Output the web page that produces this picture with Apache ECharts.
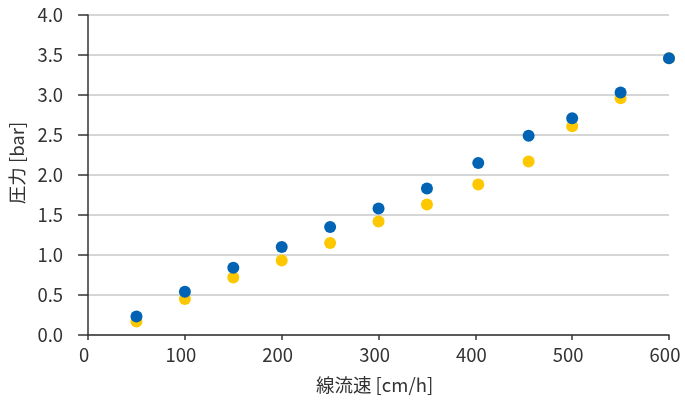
<!DOCTYPE html>
<html>
<head>
<meta charset="utf-8">
<script src="https://cdn.jsdelivr.net/npm/echarts@6/dist/echarts.min.js"></script>
<style>
  html, body { margin: 0; padding: 0; background: #fff; }
  #chart { width: 685px; height: 400px; }
</style>
</head>
<body>
<div id="chart"></div>
<script>
// Linear flow velocity [cm/h]
const velocity = [50, 100, 150, 200, 250, 300, 350, 403, 455, 500, 550, 600];
// Pressure [bar] for the two measurement series
const pressureBlue   = [0.23, 0.54, 0.84, 1.10, 1.35, 1.58, 1.83, 2.15, 2.49, 2.71, 3.03, 3.46];
const pressureYellow = [0.17, 0.45, 0.72, 0.93, 1.15, 1.42, 1.63, 1.88, 2.17, 2.61, 2.96, 3.46];

const FONT = '"Noto Sans CJK JP", "Noto Sans", sans-serif';
const TEXT = '#333333';
const FS = 18.5;

function pairs(xs, ys) {
  return xs.map((x, i) => [x, ys[i]]);
}

const chart = echarts.init(document.getElementById('chart'), null, { renderer: 'canvas' });
chart.setOption({
  animation: false,
  backgroundColor: '#ffffff',
  grid: { left: 87, right: 16, top: 15, bottom: 65 },
  xAxis: {
    type: 'value',
    min: 0, max: 600, interval: 100,
    name: '線流速 [cm/h]',
    nameLocation: 'middle',
    nameGap: 41,
    nameTextStyle: { fontFamily: FONT, fontSize: FS, color: TEXT, padding: [0, 8, 0, 0] },
    axisLine: { lineStyle: { color: '#333', width: 1.5 } },
    axisTick: { show: true, length: 5, lineStyle: { color: '#333', width: 1.5 } },
    axisLabel: { margin: 11, fontFamily: FONT, fontSize: FS, color: TEXT, padding: [0, 8, 0, 0] },
    splitLine: { show: false }
  },
  yAxis: {
    type: 'value',
    min: 0, max: 4, interval: 0.5,
    name: '圧力 [bar]',
    nameLocation: 'middle',
    nameGap: 59,
    nameRotate: 90,
    nameTextStyle: { fontFamily: FONT, fontSize: FS, color: TEXT, padding: [0, 0, 0, 24] },
    axisLine: { show: true, lineStyle: { color: '#333', width: 1.5 } },
    axisTick: { show: true, length: 10, lineStyle: { color: '#333', width: 1.5 } },
    axisLabel: {
      margin: 25, fontFamily: FONT, fontSize: FS, color: TEXT,
      formatter: v => v.toFixed(1)
    },
    splitLine: { show: true, lineStyle: { color: '#c8c8c8', width: 1.5 } }
  },
  series: [
    {
      name: 'yellow',
      type: 'scatter',
      symbol: 'circle',
      symbolSize: 12,
      itemStyle: { color: '#fdc800', opacity: 1 },
      data: pairs(velocity, pressureYellow),
      z: 2
    },
    {
      name: 'blue',
      type: 'scatter',
      symbol: 'circle',
      symbolSize: 12,
      itemStyle: { color: '#0063b4', opacity: 1 },
      data: pairs(velocity, pressureBlue),
      z: 3
    }
  ]
});
</script>
</body>
</html>
